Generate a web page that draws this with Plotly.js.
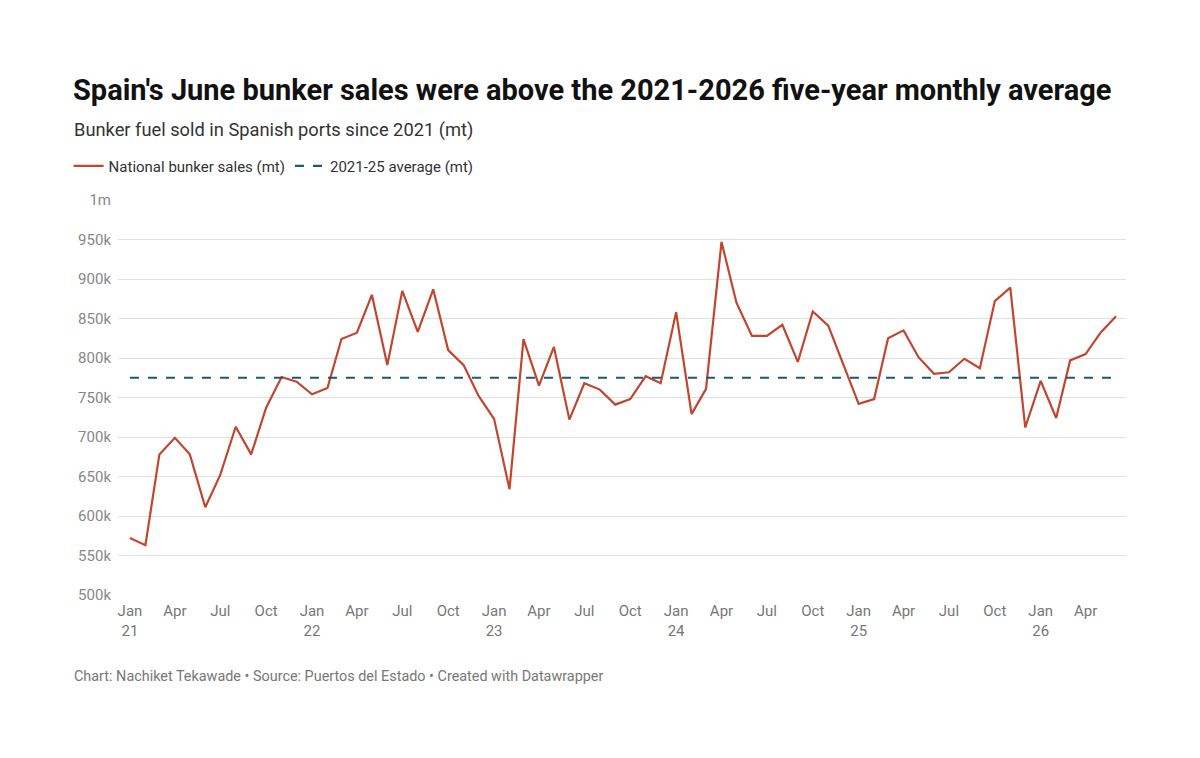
<!DOCTYPE html>
<html><head><meta charset="utf-8">
<script src="https://cdn.plot.ly/plotly-3.0.1.min.js"></script>
<style>body{margin:0;background:#fff}</style></head>
<body><div id="c" style="width:1200px;height:758px"></div>
<script>
const startYear = 2021;
const sales = [572,563,678,699,678,611,652,713,678,737,776,770,
754,762,824,832,880,791,885,833,887,810,791,752,
723,634,824,765,814,722,768,760,741,748,777,768,
858,729,761,947,870,828,828,842,795,859,841,792,
742,748,825,835,801,780,782,799,787,872,889,712,
771,724,797,805,832,853];
const average = 775;
const yTickVals = [500,550,600,650,700,750,800,850,900,950,1000];
const yTickText = ["500k","550k","600k","650k","700k","750k","800k","850k","900k","950k","1m"];
const months = ["Jan","Apr","Jul","Oct"];

const dates = sales.map((v,i)=>{const y=startYear+Math.floor(i/12), m=i%12+1;return y+"-"+String(m).padStart(2,"0")+"-01";});
const xTickVals=[], xTickText=[];
for(let i=0;i<sales.length;i+=3){xTickVals.push(dates[i]);const m=i%12;xTickText.push(m===0?"Jan<br>"+String(startYear+i/12).slice(2):months[m/3]);}

const traces=[
{x:dates,y:sales,type:"scatter",mode:"lines",name:"National bunker sales (mt)",line:{color:"#c0462f",width:2.2}},
{x:[dates[0],dates[dates.length-1]],y:[average,average],type:"scatter",mode:"lines",name:"2021-25 average (mt)",line:{color:"#1b5a75",width:2.2,dash:"dash"}}
];
const layout={
width:1200,height:758,paper_bgcolor:"#fff",plot_bgcolor:"#fff",
font:{family:"Roboto, sans-serif",color:"#333"},
margin:{l:118,r:74,t:200,b:163},
title:{text:"<b>Spain's June bunker sales were above the 2021-2026 five-year monthly average</b>",x:73/1200,xanchor:"left",y:1-90/758,yanchor:"middle",font:{size:29,color:"#111"}},
showlegend:true,
legend:{orientation:"h",x:-0.049,xanchor:"left",y:1.086,yanchor:"middle",font:{size:15,color:"#333"},itemwidth:30,traceorder:"normal"},
xaxis:{type:"date",range:["2020-12-08","2026-06-21"],tickvals:xTickVals,ticktext:xTickText,showgrid:false,zeroline:false,tickfont:{size:15,color:"#777"},ticks:"",showline:false,ticklabelstandoff:5},
yaxis:{range:[500,1000],tickvals:yTickVals,ticktext:yTickText,gridcolor:"#e0e0e0",zeroline:false,tickfont:{size:15,color:"#888"},ticks:"",showline:false,ticklabelstandoff:6},
annotations:[
{text:"Bunker fuel sold in Spanish ports since 2021 (mt)",xref:"paper",yref:"paper",x:-46/1008,xanchor:"left",y:(595-130)/395,yanchor:"middle",showarrow:false,font:{size:18.3,color:"#333"}},
{text:"Chart: Nachiket Tekawade • Source: Puertos del Estado • Created with Datawrapper",xref:"paper",yref:"paper",x:-46/1008,xanchor:"left",y:(595-676)/395,yanchor:"middle",showarrow:false,font:{size:14.4,color:"#777"}}
]
};
Plotly.newPlot("c",traces,layout,{staticPlot:true});
</script></body></html>
